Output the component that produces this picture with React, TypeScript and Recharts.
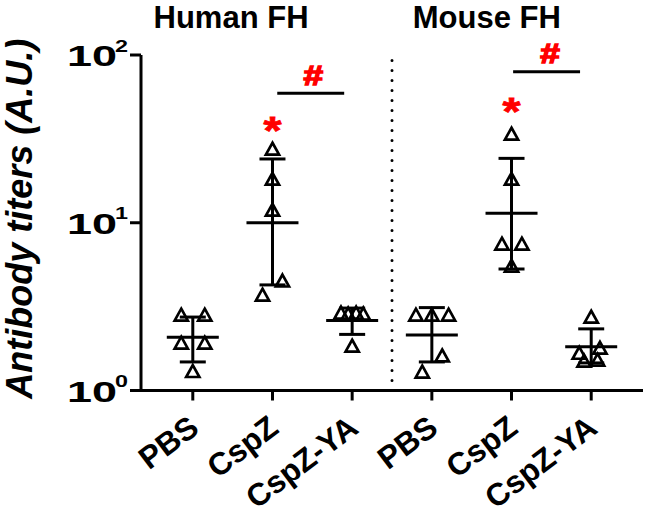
import React from 'react';
import { ScatterChart, Scatter, XAxis, YAxis, ErrorBar, ReferenceLine, ReferenceDot } from 'recharts';

// ---------- data ----------
const categories = ['PBS', 'CspZ', 'CspZ-YA', 'PBS', 'CspZ', 'CspZ-YA'];
const groupTitles = ['Human FH', 'Mouse FH'];
const yTicks = [1, 10, 100];
const xTicks = [0, 1, 2, 3, 4, 5];

// individual titers (A.U.) per group
const humanPBS = [2.82, 2.82, 1.92, 1.92, 1.3];
const humanCspZ = [27.5, 18.2, 11.9, 4.5, 3.71];
const humanCspZYA = [2.9, 2.86, 2.9, 2.86, 1.84];
const mousePBS = [2.82, 2.82, 2.82, 1.61, 1.29];
const mouseCspZ = [33.8, 18.2, 7.47, 7.47, 5.52];
const mouseCspZYA = [2.74, 1.79, 1.67, 1.52, 1.5];

// horizontal scatter of the points (category units)
const jitterHumanPBS = [-0.145, 0.15, -0.145, 0.15, 0];
const jitterHumanCspZ = [0, 0, 0, 0.125, -0.125];
const jitterHumanCspZYA = [-0.14, -0.05, 0.05, 0.14, 0];
const jitterMousePBS = [-0.2, 0, 0.21, 0.13, -0.12];
const jitterMouseCspZ = [0, 0, -0.12, 0.13, 0];
const jitterMouseCspZYA = [0, 0.11, -0.15, 0.08, -0.09];

// geometric means and SD bounds
const groupMeans = [2.08, 10.0, 2.61, 2.14, 11.4, 1.82];
const groupUpper = [2.74, 24.0, 3.1, 3.12, 24.2, 2.33];
const groupLower = [1.48, 4.26, 2.16, 1.48, 5.3, 1.46];

// significance marks
const starMarks = [
  { x: 1, y: 39.1 },
  { x: 4, y: 51.0 },
];
const hashBrackets = [
  { x1: 1.06, x2: 1.9, xMid: 1.5, y: 59.1 },
  { x1: 4.02, x2: 4.86, xMid: 4.47, y: 79.5 },
];
const titlePositions = [0.48, 3.69];

// ---------- tables ----------
const allValues = [humanPBS, humanCspZ, humanCspZYA, mousePBS, mouseCspZ, mouseCspZYA];
const allJitter = [jitterHumanPBS, jitterHumanCspZ, jitterHumanCspZYA, jitterMousePBS, jitterMouseCspZ, jitterMouseCspZYA];
const pointData = allValues.flatMap((vals, g) => vals.map((v, i) => ({ x: g + allJitter[g][i], y: v })));
const meanData = groupMeans.map((m, g) => ({
  x: g,
  y: m,
  err: [m - groupLower[g], groupUpper[g] - m],
}));

const FONT = 'Liberation Sans, Arial, Helvetica, sans-serif';
const RED = '#ff0000';

const Tri = (p: any) => {
  const { cx, cy } = p;
  if (cx == null || cy == null) return null;
  return (
    <path
      d={`M${cx},${cy - 6.3} L${cx + 6.6},${cy + 5.6} L${cx - 6.6},${cy + 5.6} Z`}
      fill="none"
      stroke="#000"
      strokeWidth={2.7}
      strokeLinejoin="miter"
    />
  );
};

const MeanLine = (p: any) => {
  const { cx, cy } = p;
  if (cx == null || cy == null) return null;
  return <line x1={cx - 26} x2={cx + 26} y1={cy} y2={cy} stroke="#000" strokeWidth={3} />;
};

// x tick: rotated label, text end placed just below-right of the tick
const XTick = (p: any) => {
  const { x, y, payload } = p;
  const tx = Number(x) + 8;
  const ty = Number(y) + 29;
  return (
    <text
      x={tx}
      y={ty}
      transform={`rotate(-37 ${tx} ${ty})`}
      textAnchor="end"
      fontFamily={FONT}
      fontWeight="bold"
      fontSize={31.5}
      fill="#000"
    >
      {categories[payload.value]}
    </text>
  );
};

const YTick = (p: any) => {
  const { x, y, payload } = p;
  const exp = Math.round(Math.log10(payload.value));
  return (
    <g>
      <text
        x={x - 11}
        y={y + 11}
        textAnchor="end"
        fontFamily={FONT}
        fontWeight="bold"
        fontSize={30}
        textLength={50}
        lengthAdjust="spacingAndGlyphs"
        fill="#000"
      >
        10
      </text>
      <text
        x={x}
        y={y - 3.5}
        textAnchor="end"
        fontFamily={FONT}
        fontWeight="bold"
        fontSize={17}
        textLength={13}
        lengthAdjust="spacingAndGlyphs"
        fill="#000"
      >
        {exp}
      </text>
    </g>
  );
};

const YTitle = (p: any) => {
  const vb = p.viewBox || { x: 0, y: 55, width: 141, height: 335 };
  const cx = vb.x + 32;
  const cy = vb.y + vb.height / 2 - 4;
  return (
    <text
      x={cx}
      y={cy}
      transform={`rotate(-90 ${cx} ${cy})`}
      textAnchor="middle"
      fontFamily={FONT}
      fontWeight="bold"
      fontStyle="italic"
      fontSize={36}
      fill="#000"
    >
      Antibody titers (A.U.)
    </text>
  );
};

const starShape = (p: any) => (
  <text
    x={p.cx}
    y={p.cy + 21}
    textAnchor="middle"
    fontFamily={FONT}
    fontWeight="bold"
    fontSize={38}
    textLength={18}
    lengthAdjust="spacingAndGlyphs"
    fill={RED}
    stroke={RED}
    strokeWidth={0.8}
  >
    *
  </text>
);

const hashShape = (p: any) => (
  <text
    x={p.cx + 1}
    y={p.cy - 8.5}
    textAnchor="middle"
    fontFamily={FONT}
    fontWeight="bold"
    fontSize={27.5}
    textLength={19.6}
    lengthAdjust="spacingAndGlyphs"
    fill={RED}
    stroke={RED}
    strokeWidth={1.4}
  >
    #
  </text>
);

const titleShape = (label: string) => (p: any) => (
  <text
    x={p.cx}
    y={p.cy - 27}
    textAnchor="middle"
    fontFamily={FONT}
    fontWeight="bold"
    fontSize={31}
    fill="#000"
  >
    {label}
  </text>
);

export default function App() {
  return (
    <div style={{ position: 'absolute', left: 0, top: 0, width: 650, height: 522, background: '#fff' }}>
      <ScatterChart width={650} height={522} margin={{ top: 55, right: 7, bottom: 31.5, left: 0 }}>
        <XAxis
          type="number"
          dataKey="x"
          domain={[-0.65, 5.65]}
          ticks={xTicks}
          interval={0}
          allowDataOverflow
          height={100}
          tick={XTick}
          tickSize={10}
          tickMargin={2}
          axisLine={{ stroke: '#000', strokeWidth: 3 }}
          tickLine={{ stroke: '#000', strokeWidth: 3 }}
        />
        <YAxis
          type="number"
          dataKey="y"
          scale="log"
          domain={[1, 100]}
          ticks={yTicks}
          interval={0}
          allowDataOverflow
          width={141}
          tick={YTick}
          tickSize={11}
          tickMargin={2}
          axisLine={{ stroke: '#000', strokeWidth: 3 }}
          tickLine={{ stroke: '#000', strokeWidth: 3 }}
          label={<YTitle />}
        />
        <ReferenceLine
          x={2.5}
          stroke="#000"
          strokeWidth={3}
          strokeDasharray="0 10"
          strokeLinecap="round"
        />
        <Scatter data={meanData} dataKey="y" shape={MeanLine} isAnimationActive={false}>
          <ErrorBar
            dataKey="err"
            direction="y"
            width={13}
            stroke="#000"
            strokeWidth={3}
            isAnimationActive={false}
          />
        </Scatter>
        <Scatter data={pointData} dataKey="y" shape={Tri} isAnimationActive={false} />
        {hashBrackets.map((b, i) => (
          <ReferenceLine
            key={`br${i}`}
            segment={[
              { x: b.x1, y: b.y },
              { x: b.x2, y: b.y },
            ]}
            stroke="#000"
            strokeWidth={3}
          />
        ))}
        {hashBrackets.map((b, i) => (
          <ReferenceDot key={`h${i}`} x={b.xMid} y={b.y} ifOverflow="visible" shape={hashShape} />
        ))}
        {starMarks.map((s, i) => (
          <ReferenceDot key={`s${i}`} x={s.x} y={s.y} ifOverflow="visible" shape={starShape} />
        ))}
        {groupTitles.map((t, i) => (
          <ReferenceDot key={`t${i}`} x={titlePositions[i]} y={100} ifOverflow="visible" shape={titleShape(t)} />
        ))}
      </ScatterChart>
    </div>
  );
}
